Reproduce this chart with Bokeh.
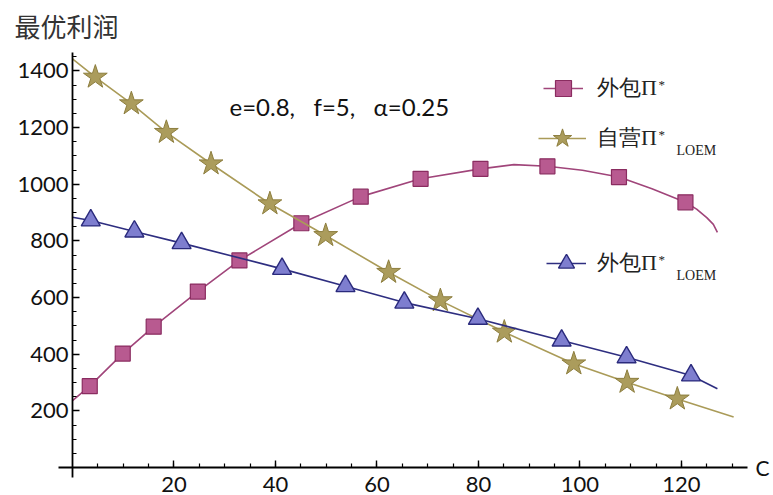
from bokeh.plotting import figure
from bokeh.models import (Range1d, LinearAxis, FixedTicker, Label, Legend, LegendItem)
from bokeh.embed import file_html
from bokeh.resources import INLINE

# ---------------- data ----------------
# 外包Π* (magenta squares)
out_pi_mx = [3.4, 9.9, 16.0, 24.7, 32.9, 45.1, 56.8, 68.6, 80.4, 93.6, 107.7, 120.8]
out_pi_my = [287, 402, 497, 621, 731, 862, 956, 1019, 1054, 1063, 1025, 936]
out_pi_cx = [0, 3.4, 9.9, 16.0, 24.7, 32.9, 45.1, 56.8, 68.6, 80.4, 87.0, 93.6, 100.5,
             107.7, 114.2, 120.8, 123.0, 125.0, 126.3, 127.1]
out_pi_cy = [236, 287, 402, 497, 621, 731, 862, 956, 1019, 1054, 1069, 1063, 1049,
             1025, 984, 936, 912, 882, 858, 830]

# 自营Π*_LOEM (khaki stars)
self_mx = [4.5, 11.6, 18.5, 27.3, 38.9, 49.9, 62.3, 72.5, 85.1, 98.8, 109.3, 119.2]
self_my = [1378, 1284, 1183, 1072, 931, 819, 689, 589, 478, 366, 301, 242]
self_cx = [0] + self_mx + [130.3]
self_cy = [1442] + self_my + [178]

# 外包Π*_LOEM (blue triangles)
outl_mx = [3.6, 12.2, 21.5, 41.3, 53.8, 65.4, 79.9, 96.4, 109.2, 121.9]
outl_my = [872, 833, 792, 701, 640, 582, 525, 448, 389, 325]
outl_cx = [0] + outl_mx + [127.1]
outl_cy = [883] + outl_my + [278]

x_major = [20, 40, 60, 80, 100, 120]
x_minor = [5 * i for i in range(1, 27)]
y_major = [200, 400, 600, 800, 1000, 1200, 1400]
y_minor = [50 * i for i in range(1, 30)]

# ---------------- figure ----------------
W, H = 773, 495
X0PX, Y0PX = 72, 467          # page pixel of the origin
XPU, YPU = 5.074, 0.28333     # pixels per data unit

p = figure(width=W, height=H, output_backend="svg", toolbar_location=None,
           x_axis_type=None, y_axis_type=None,
           x_range=Range1d(-X0PX / XPU, (W - X0PX) / XPU),
           y_range=Range1d(-(H - Y0PX) / YPU, Y0PX / YPU),
           min_border_left=0, min_border_right=0, min_border_top=0,
           min_border_bottom=0)
p.outline_line_color = None
p.background_fill_color = "white"
p.border_fill_color = "white"

tick_font = "Lato"
xaxis = LinearAxis(fixed_location=0, bounds=(-2.8, 133),
                   ticker=FixedTicker(ticks=x_major, minor_ticks=x_minor))
yaxis = LinearAxis(fixed_location=0, bounds=(-35, 1465),
                   ticker=FixedTicker(ticks=y_major, minor_ticks=y_minor))
for ax in (xaxis, yaxis):
    ax.axis_line_color = "black"
    ax.axis_line_width = 1.8
    ax.major_tick_line_color = "black"
    ax.major_tick_line_width = 1.4
    ax.minor_tick_line_color = "black"
    ax.minor_tick_line_width = 1.2
    ax.major_tick_in = 7
    ax.major_tick_out = 0
    ax.minor_tick_in = 4
    ax.minor_tick_out = 0
    ax.major_label_text_font = tick_font
    ax.major_label_text_font_size = "22px"
    ax.major_label_text_color = "#111111"
xaxis.major_label_standoff = 9
yaxis.major_label_standoff = 4
p.add_layout(xaxis, "below")
p.add_layout(yaxis, "left")

MAG_LINE, MAG_FILL, MAG_EDGE = "#a0457a", "#b85a90", "#8a2c60"
KHA_LINE, KHA_FILL, KHA_EDGE = "#aa9b58", "#ab9c5c", "#8d7e3e"
BLU_LINE, BLU_FILL, BLU_EDGE = "#2e2e80", "#7e7ecf", "#2a2a7c"

l1 = p.line(out_pi_cx, out_pi_cy, line_color=MAG_LINE, line_width=1.6)
s1 = p.scatter(out_pi_mx, out_pi_my, marker="square", size=15,
               fill_color=MAG_FILL, line_color=MAG_EDGE, line_width=1.2)
l2 = p.line(self_cx, self_cy, line_color=KHA_LINE, line_width=1.6)
s2 = p.scatter(self_mx, self_my, marker="star", size=25,
               fill_color=KHA_FILL, line_color=KHA_EDGE, line_width=1.0)
l3 = p.line(outl_cx, outl_cy, line_color=BLU_LINE, line_width=1.6)
s3 = p.scatter(outl_mx, outl_my, marker="triangle", size=19,
               fill_color=BLU_FILL, line_color=BLU_EDGE, line_width=1.4)


def sx(px):
    return px


def sy(py):
    return H - py


def make_legend(label, rends, left, cy, g, standoff):
    leg = Legend(items=[LegendItem(label=label, renderers=rends)],
                 location=(sx(left), sy(cy + g / 2)),
                 glyph_width=g, glyph_height=g, label_standoff=standoff,
                 padding=0, margin=0, spacing=0,
                 border_line_color=None, background_fill_alpha=0,
                 label_text_font="Liberation Serif", label_text_font_size="22px",
                 label_text_color="#222222", label_height=g)
    p.add_layout(leg, "center")


make_legend("外包Π", [l1, s1], 543, 88, 40, 14)
make_legend("自营Π", [l2, s2], 538, 138, 48, 11)
make_legend("外包Π", [l3, s3], 546, 263, 40, 11)

serif = "Liberation Serif"
for (x, y, t, fs) in [(658, 84, "*", "13px"), (676, 150, "LOEM", "14px"),
                      (658, 134, "*", "13px"), (676, 275, "LOEM", "14px"),
                      (658, 259, "*", "13px")]:
    p.add_layout(Label(x=sx(x), y=sy(y), x_units="screen", y_units="screen", text=t,
                       text_font=serif, text_font_size=fs, text_color="#222222",
                       text_baseline="middle", text_align="left"))

# annotation text
nb = "\u00a0" * 3
p.add_layout(Label(x=sx(229), y=sy(106), x_units="screen", y_units="screen",
                   text="e=0.8," + nb + "f=5," + nb + "α=0.25", text_font="Lato",
                   text_font_size="24px",
                   text_color="#111111", text_baseline="middle", text_align="left"))
# y-axis title
p.add_layout(Label(x=sx(14), y=sy(25), x_units="screen", y_units="screen",
                   text="最优利润", text_font="Noto Sans CJK SC", text_font_size="26px",
                   text_color="#333333", text_baseline="middle", text_align="left"))
# x-axis title
p.add_layout(Label(x=sx(755), y=sy(467), x_units="screen", y_units="screen",
                   text="C", text_font="Lato", text_font_size="21px",
                   text_color="#111111", text_baseline="middle", text_align="left"))

open("out.html", "w").write(file_html(p, INLINE))
